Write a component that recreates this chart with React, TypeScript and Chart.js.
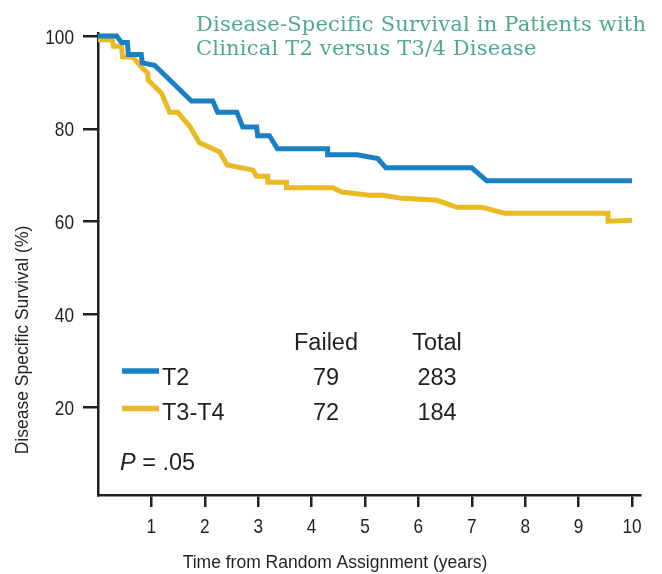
import React, { useEffect, useRef } from "react";
import { Chart, registerables } from "chart.js";

Chart.register(...registerables);

// ---- Data ----
const t2Years = [0, 0.35, 0.44, 0.55, 0.57, 0.81, 0.83, 1.06, 1.75, 2.15, 2.24, 2.6, 2.71, 2.97, 2.99, 3.21, 3.36, 4.3, 4.3, 4.85, 5.24, 5.39, 7.0, 7.28, 10];
const t2Survival = [100, 100, 98.6, 98.6, 96.0, 96.0, 94.2, 93.7, 86.0, 86.0, 83.6, 83.6, 80.4, 80.4, 78.5, 78.5, 75.7, 75.7, 74.4, 74.4, 73.6, 71.6, 71.6, 68.8, 68.8];

const t34Years = [0, 0.27, 0.29, 0.44, 0.46, 0.65, 0.83, 0.93, 0.94, 1.19, 1.34, 1.49, 1.72, 1.9, 2.28, 2.42, 2.9, 2.97, 3.18, 3.18, 3.53, 3.53, 4.4, 4.56, 5.09, 5.33, 5.65, 6.35, 6.72, 7.19, 7.62, 9.55, 9.55, 10];
const t34Survival = [99.2, 99.2, 97.8, 97.8, 95.5, 95.5, 93.1, 92.0, 90.5, 87.7, 83.6, 83.6, 80.5, 77.0, 75.0, 72.2, 71.1, 69.8, 69.8, 68.5, 68.5, 67.3, 67.3, 66.4, 65.7, 65.7, 65.1, 64.6, 63.1, 63.1, 61.8, 61.8, 60.1, 60.3];

const xTicks = [1, 2, 3, 4, 5, 6, 7, 8, 9, 10];
const yTicks = [20, 40, 60, 80, 100];

const titleLines = ["Disease-Specific Survival in Patients with", "Clinical T2 versus T3/4 Disease"];
const groupNames = ["T2", "T3-T4"];
const failedCounts = [79, 72];
const totalCounts = [283, 184];
const tableHeaders = ["Failed", "Total"];
const pValueText = ".05";
const xTitle = "Time from Random Assignment (years)";
const yTitle = "Disease Specific Survival (%)";

const BLUE = "#1a80c4";
const YELLOW = "#e9ba24";
const INK = "#231f20";
const TEAL = "#4fa892";
const SANS = "'Liberation Sans', Arial, sans-serif";

const overlayPlugin = {
  id: "overlayText",
  afterDraw(chart: any) {
    const ctx = chart.ctx as CanvasRenderingContext2D;
    ctx.save();

    // Condensed tick labels, positioned by the chart's own scales
    const narrow = (text: string, x: number, y: number, align: CanvasTextAlign) => {
      ctx.save();
      ctx.translate(x, y);
      ctx.scale(0.82, 1);
      ctx.textAlign = align;
      ctx.textBaseline = "alphabetic";
      ctx.fillText(text, 0, 0);
      ctx.restore();
    };
    ctx.fillStyle = INK;
    ctx.font = "21px " + SANS;
    const ys = chart.scales.y;
    const xs = chart.scales.x;
    for (const v of yTicks) {
      narrow(String(v), 74, ys.getPixelForValue(v) + 7.5, "right");
    }
    for (const v of xTicks) {
      narrow(String(v), xs.getPixelForValue(v), 533, "center");
    }

    // Title
    ctx.fillStyle = TEAL;
    ctx.font = "21px 'DejaVu Serif', serif";
    ctx.textAlign = "left";
    ctx.textBaseline = "alphabetic";
    (ctx as any).letterSpacing = "0.2px";
    ctx.fillText(titleLines[0], 196, 31);
    ctx.fillText(titleLines[1], 196, 55);
    (ctx as any).letterSpacing = "0px";

    // Axis titles
    ctx.fillStyle = INK;
    ctx.font = "17.5px " + SANS;
    ctx.textAlign = "center";
    ctx.textBaseline = "middle";
    ctx.fillText(xTitle, 335, 563);
    ctx.save();
    ctx.translate(23, 340);
    ctx.rotate(-Math.PI / 2);
    ctx.fillText(yTitle, 0, 0);
    ctx.restore();

    // Legend table
    ctx.font = "23.5px " + SANS;
    ctx.textBaseline = "alphabetic";
    ctx.textAlign = "center";
    ctx.fillText(tableHeaders[0], 326, 350);
    ctx.fillText(tableHeaders[1], 437, 350);
    const rowBase = [385, 420];
    const lineY = [371, 408.5];
    const colors = [BLUE, YELLOW];
    for (let i = 0; i < groupNames.length; i++) {
      ctx.textAlign = "center";
      ctx.fillStyle = INK;
      ctx.fillText(String(failedCounts[i]), 326, rowBase[i]);
      ctx.fillText(String(totalCounts[i]), 437, rowBase[i]);
      ctx.textAlign = "left";
      ctx.fillText(groupNames[i], 162, rowBase[i]);
      ctx.strokeStyle = colors[i];
      ctx.lineWidth = 5.5;
      ctx.beginPath();
      ctx.moveTo(122, lineY[i]);
      ctx.lineTo(159, lineY[i]);
      ctx.stroke();
    }
    // P value
    ctx.fillStyle = INK;
    ctx.textAlign = "left";
    ctx.font = "italic 23.5px " + SANS;
    ctx.fillText("P", 120, 470);
    const pw = ctx.measureText("P").width;
    ctx.font = "23.5px " + SANS;
    ctx.fillText(" = " + pValueText, 120 + pw, 470);
    ctx.restore();
  },
};

export default function App() {
  const canvasRef = useRef<HTMLCanvasElement | null>(null);

  useEffect(() => {
    const canvas = canvasRef.current;
    if (!canvas) return;
    const chart = new Chart(canvas, {
      type: "line",
      data: {
        datasets: [
          {
            label: groupNames[0],
            data: t2Years.map((x, i) => ({ x, y: t2Survival[i] })),
            borderColor: BLUE,
            borderWidth: 5,
            pointRadius: 0,
            tension: 0,
            fill: false,
            borderJoinStyle: "miter",
            clip: false,
          },
          {
            label: groupNames[1],
            data: t34Years.map((x, i) => ({ x, y: t34Survival[i] })),
            borderColor: YELLOW,
            borderWidth: 5,
            pointRadius: 0,
            tension: 0,
            fill: false,
            borderJoinStyle: "miter",
            clip: false,
          },
        ],
      },
      options: {
        responsive: false,
        animation: false,
        devicePixelRatio: 1,
        layout: { padding: { top: 33, right: 22, left: 0, bottom: 0 } },
        plugins: {
          legend: { display: false },
          tooltip: { enabled: false },
          title: { display: false },
        },
        scales: {
          x: {
            type: "linear",
            min: 0,
            max: 10.15,
            afterBuildTicks: (s: any) => {
              s.ticks = xTicks.map((v) => ({ value: v }));
            },
            afterFit: (s: any) => {
              s.height = 79;
            },
            grid: {
              display: true,
              drawOnChartArea: false,
              drawTicks: true,
              tickLength: 12,
              color: INK,
              lineWidth: 2.5,
            },
            border: { display: true, color: INK, width: 2.5 },
            ticks: { display: false, autoSkip: false },
          },
          y: {
            type: "linear",
            min: 1.1,
            max: 100.65,
            afterBuildTicks: (s: any) => {
              s.ticks = yTicks.map((v) => ({ value: v }));
            },
            afterFit: (s: any) => {
              s.width = 98;
            },
            grid: {
              display: true,
              drawOnChartArea: false,
              drawTicks: true,
              tickLength: 15,
              color: INK,
              lineWidth: 2.5,
            },
            border: { display: true, color: INK, width: 2.5 },
            ticks: { display: false, autoSkip: false },
          },
        },
      },
      plugins: [overlayPlugin],
    } as any);
    return () => chart.destroy();
  }, []);

  return (
    <div style={{ position: "fixed", left: 0, top: 0, width: 662, height: 574, background: "#fff" }}>
      <canvas ref={canvasRef} width={662} height={574} style={{ display: "block" }} />
    </div>
  );
}
